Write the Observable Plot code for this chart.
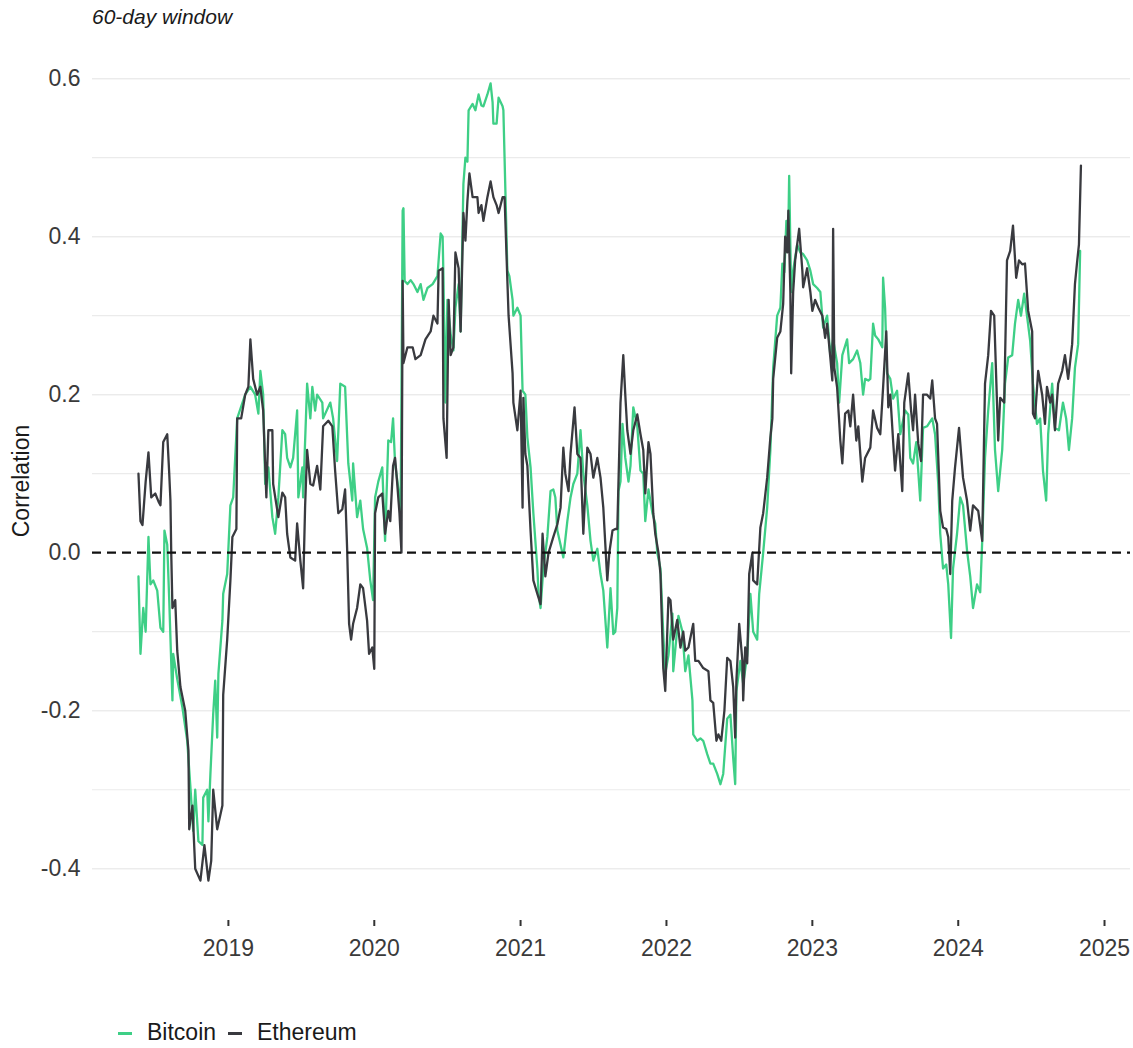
<!DOCTYPE html>
<html>
<head>
<meta charset="utf-8">
<script src="https://cdn.jsdelivr.net/npm/d3@7"></script>
<script src="https://cdn.jsdelivr.net/npm/@observablehq/plot@0.6"></script>
<style>
  html, body { margin: 0; padding: 0; background: #ffffff; }
  #wrap { position: relative; width: 1133px; height: 1048px; font-family: "Liberation Sans", Arial, Helvetica, sans-serif; }
  #title { position: absolute; left: 92px; top: 6px; font-size: 21px; line-height: 21px; font-style: italic; color: #1a1a1a; white-space: nowrap; }
  #ylab { position: absolute; left: 21px; top: 481px; transform: translate(-50%, -50%) rotate(-90deg); font-size: 23px; line-height: 23px; color: #1a1a1a; white-space: nowrap; }
  #chart { position: absolute; left: 0; top: 0; }
  .lg-key { position: absolute; width: 14px; height: 3px; top: 1032px; }
  .lg-txt { position: absolute; top: 1021px; font-size: 23px; line-height: 23px; color: #1a1a1a; white-space: nowrap; }
</style>
</head>
<body>
<div id="wrap">
  <div id="chart"></div>
  <div id="title"></div>
  <div id="ylab"></div>
  <div id="legend"></div>
</div>
<script>
const titleText = "60-day window";
const yAxisTitle = "Correlation";
const seriesNames = ["Bitcoin", "Ethereum"];
const seriesColors = ["#3ecf86", "#393a3f"];

const xTickDates = ["2019-01-01","2020-01-01","2021-01-01","2022-01-01","2023-01-01","2024-01-01","2025-01-01"];
const xTickLabels = ["2019","2020","2021","2022","2023","2024","2025"];
const yTickValues = [-0.4, -0.2, 0, 0.2, 0.4, 0.6];
const yTickLabels = ["-0.4", "-0.2", "0.0", "0.2", "0.4", "0.6"];
const yGridValues = [-0.4, -0.3, -0.2, -0.1, 0.1, 0.2, 0.3, 0.4, 0.5, 0.6];

const btcDates = ["2018-05-21","2018-05-26","2018-06-02","2018-06-08","2018-06-15","2018-06-20","2018-06-27","2018-07-07","2018-07-15","2018-07-22","2018-07-25","2018-08-01","2018-08-06","2018-08-14","2018-08-16","2018-08-26","2018-09-08","2018-09-20","2018-09-28","2018-10-05","2018-10-10","2018-10-18","2018-10-28","2018-10-30","2018-11-09","2018-11-12","2018-11-17","2018-11-24","2018-11-29","2018-12-04","2018-12-07","2018-12-17","2018-12-19","2018-12-29",
"2019-01-06","2019-01-13","2019-01-23","2019-02-12","2019-02-25","2019-03-09","2019-03-17","2019-03-22","2019-03-29","2019-04-03","2019-04-11","2019-04-21","2019-04-28","2019-05-06","2019-05-16","2019-05-23","2019-05-28","2019-06-05","2019-06-12","2019-06-22","2019-06-25","2019-07-05","2019-07-07","2019-07-17","2019-07-25","2019-07-30","2019-08-06","2019-08-11","2019-08-24","2019-08-26","2019-09-13","2019-09-20","2019-09-30","2019-10-08","2019-10-20","2019-10-28","2019-11-07","2019-11-09","2019-11-19","2019-11-27","2019-12-04","2019-12-14","2019-12-22","2019-12-29",
"2020-01-03","2020-01-11","2020-01-21","2020-01-28","2020-02-05","2020-02-12","2020-02-17","2020-02-22","2020-03-02","2020-03-07","2020-03-12","2020-03-14","2020-03-17","2020-03-24","2020-04-01","2020-04-08","2020-04-18","2020-04-26","2020-05-03","2020-05-13","2020-05-26","2020-06-07","2020-06-15","2020-06-20","2020-06-22","2020-06-27","2020-07-02","2020-07-10","2020-07-17","2020-07-22","2020-07-30","2020-08-04","2020-08-11","2020-08-16","2020-08-21","2020-08-24","2020-09-03","2020-09-10","2020-09-18","2020-09-25","2020-09-30","2020-10-10","2020-10-18","2020-10-23","2020-10-25","2020-11-02","2020-11-07","2020-11-17","2020-11-19","2020-11-24","2020-11-29","2020-12-04","2020-12-12","2020-12-14","2020-12-24",
"2021-01-01","2021-01-06","2021-01-13","2021-01-18","2021-01-26","2021-02-02","2021-02-12","2021-02-15","2021-02-20","2021-02-27","2021-03-09","2021-03-17","2021-03-24","2021-03-29","2021-04-03","2021-04-11","2021-04-18","2021-04-28","2021-05-06","2021-05-13","2021-05-23","2021-05-31","2021-06-07","2021-06-17","2021-06-25","2021-07-02","2021-07-12","2021-07-20","2021-07-27","2021-08-06","2021-08-14","2021-08-21","2021-08-26","2021-08-31","2021-09-03","2021-09-08","2021-09-13","2021-09-20","2021-09-28","2021-10-03","2021-10-10","2021-10-20","2021-10-28","2021-11-04","2021-11-09","2021-11-17","2021-11-27","2021-12-04","2021-12-09","2021-12-17","2021-12-24","2021-12-29",
"2022-01-06","2022-01-16","2022-01-18","2022-01-31","2022-02-10","2022-02-17","2022-02-25","2022-03-07","2022-03-09","2022-03-19","2022-03-27","2022-04-03","2022-04-13","2022-04-21","2022-04-28","2022-05-08","2022-05-16","2022-05-23","2022-06-02","2022-06-10","2022-06-17","2022-06-22","2022-06-25","2022-07-05","2022-07-12","2022-07-22","2022-07-30","2022-08-06","2022-08-16","2022-08-21","2022-08-31","2022-09-10","2022-09-18","2022-09-25","2022-10-05","2022-10-13","2022-10-18","2022-10-23","2022-10-28","2022-11-02","2022-11-04","2022-11-09","2022-11-14","2022-11-24","2022-12-02","2022-12-09","2022-12-19","2022-12-27",
"2023-01-03","2023-01-13","2023-01-21","2023-01-28","2023-02-07","2023-02-15","2023-02-22","2023-03-04","2023-03-09","2023-03-17","2023-03-29","2023-04-03","2023-04-13","2023-04-23","2023-05-01","2023-05-08","2023-05-13","2023-05-21","2023-05-26","2023-06-02","2023-06-07","2023-06-15","2023-06-25","2023-06-27","2023-07-02","2023-07-07","2023-07-15","2023-07-22","2023-08-01","2023-08-09","2023-08-21","2023-08-29","2023-09-03","2023-09-10","2023-09-18","2023-09-28","2023-10-05","2023-10-15","2023-10-28","2023-11-04","2023-11-12","2023-11-17","2023-11-24","2023-12-02","2023-12-07","2023-12-14","2023-12-19","2023-12-29",
"2024-01-06","2024-01-13","2024-01-23","2024-01-31","2024-02-07","2024-02-17","2024-02-25","2024-03-01","2024-03-08","2024-03-16","2024-03-26","2024-04-02","2024-04-10","2024-04-20","2024-04-27","2024-05-05","2024-05-15","2024-05-22","2024-05-30","2024-06-06","2024-06-14","2024-06-21","2024-06-29","2024-07-06","2024-07-16","2024-07-24","2024-07-31","2024-08-08","2024-08-13","2024-08-23","2024-08-30","2024-09-09","2024-09-19","2024-09-27","2024-10-04","2024-10-12","2024-10-19","2024-10-27","2024-11-01"];

const btcValues = [-0.03,-0.128,-0.07,-0.1,0.02,-0.04,-0.035,-0.048,-0.095,-0.1,0.028,0.01,-0.06,-0.187,-0.128,-0.16,-0.196,-0.238,-0.297,-0.352,-0.30,-0.365,-0.37,-0.31,-0.30,-0.34,-0.28,-0.204,-0.162,-0.234,-0.153,-0.086,-0.052,-0.027,
0.06,0.07,0.17,0.2,0.21,0.2,0.176,0.23,0.2,0.087,0.108,0.045,0.024,0.07,0.155,0.15,0.12,0.108,0.12,0.18,0.07,0.108,0.07,0.214,0.17,0.21,0.18,0.2,0.19,0.17,0.19,0.17,0.116,0.214,0.21,0.113,0.066,0.113,0.045,0.066,0.03,0.006,-0.035,-0.06,
0.07,0.09,0.108,0.015,0.142,0.14,0.17,0.113,0.078,0.053,0.433,0.436,0.344,0.34,0.345,0.34,0.33,0.34,0.32,0.335,0.34,0.35,0.404,0.40,0.35,0.19,0.32,0.277,0.256,0.31,0.34,0.28,0.467,0.5,0.495,0.56,0.568,0.56,0.58,0.566,0.565,0.58,0.594,0.57,0.543,0.543,0.576,0.565,0.56,0.458,0.357,0.35,0.32,0.30,0.31,
0.30,0.205,0.2,0.146,0.108,0.05,-0.02,-0.052,-0.07,-0.02,0.02,0.078,0.08,0.07,0.028,0.01,-0.006,0.04,0.07,0.087,0.1,0.155,0.1,0.06,0.015,-0.01,0.005,-0.027,-0.048,-0.12,-0.045,-0.103,-0.1,-0.07,0.078,0.09,0.163,0.12,0.09,0.11,0.184,0.16,0.104,0.1,0.04,0.08,0.05,0.037,0.0,-0.02,-0.103,-0.153,
-0.13,-0.077,-0.15,-0.08,-0.1,-0.15,-0.13,-0.187,-0.23,-0.238,-0.235,-0.238,-0.255,-0.267,-0.267,-0.28,-0.293,-0.28,-0.21,-0.205,-0.26,-0.293,-0.175,-0.137,-0.166,-0.13,-0.052,-0.1,-0.11,-0.052,0.0,0.057,0.13,0.234,0.3,0.31,0.366,0.355,0.42,0.41,0.477,0.33,0.357,0.39,0.38,0.378,0.37,0.357,
0.34,0.335,0.33,0.285,0.3,0.25,0.27,0.24,0.19,0.25,0.27,0.24,0.245,0.256,0.24,0.2,0.22,0.218,0.22,0.29,0.275,0.27,0.26,0.348,0.31,0.227,0.22,0.195,0.205,0.15,0.18,0.175,0.12,0.113,0.14,0.066,0.158,0.16,0.17,0.15,0.087,0.024,-0.02,-0.015,-0.04,-0.108,-0.02,0.024,
0.07,0.06,0.003,-0.03,-0.07,-0.04,-0.05,0.015,0.12,0.18,0.24,0.13,0.078,0.13,0.214,0.247,0.25,0.29,0.32,0.30,0.328,0.3,0.268,0.214,0.163,0.17,0.104,0.066,0.15,0.214,0.158,0.155,0.19,0.17,0.13,0.17,0.234,0.264,0.382];

const ethDates = ["2018-05-21","2018-05-26","2018-05-31","2018-06-08","2018-06-15","2018-06-22","2018-07-02","2018-07-10","2018-07-15","2018-07-22","2018-08-01","2018-08-06","2018-08-09","2018-08-11","2018-08-14","2018-08-21","2018-08-26","2018-09-03","2018-09-15","2018-09-23","2018-09-25","2018-10-03","2018-10-10","2018-10-23","2018-11-02","2018-11-12","2018-11-19","2018-11-24","2018-12-04","2018-12-17","2018-12-19","2018-12-29",
"2019-01-06","2019-01-11","2019-01-21","2019-01-23","2019-02-02","2019-02-12","2019-02-20","2019-02-25","2019-03-04","2019-03-14","2019-03-22","2019-03-29","2019-04-06","2019-04-11","2019-04-21","2019-04-23","2019-05-06","2019-05-16","2019-05-23","2019-05-28","2019-06-05","2019-06-17","2019-06-22","2019-06-30","2019-07-07","2019-07-12","2019-07-17","2019-07-25","2019-08-01","2019-08-11","2019-08-19","2019-08-26","2019-09-08","2019-09-18","2019-09-25","2019-10-03","2019-10-13","2019-10-20","2019-10-25","2019-10-30","2019-11-04","2019-11-09","2019-11-19","2019-11-27","2019-12-04","2019-12-14","2019-12-19","2019-12-27",
"2020-01-01","2020-01-03","2020-01-11","2020-01-21","2020-01-28","2020-02-05","2020-02-10","2020-02-17","2020-02-22","2020-02-27","2020-03-04","2020-03-09","2020-03-12","2020-03-14","2020-03-24","2020-04-06","2020-04-13","2020-04-26","2020-05-08","2020-05-21","2020-05-28","2020-06-07","2020-06-10","2020-06-20","2020-06-22","2020-06-30","2020-07-05","2020-07-10","2020-07-17","2020-07-22","2020-07-30","2020-08-04","2020-08-11","2020-08-16","2020-08-21","2020-08-26","2020-09-03","2020-09-15","2020-09-18","2020-09-25","2020-09-30","2020-10-10","2020-10-18","2020-10-25","2020-11-02","2020-11-07","2020-11-17","2020-11-22","2020-11-24","2020-11-29","2020-12-02","2020-12-12","2020-12-14","2020-12-24",
"2021-01-01","2021-01-06","2021-01-08","2021-01-13","2021-01-18","2021-01-26","2021-02-02","2021-02-12","2021-02-20","2021-02-25","2021-03-04","2021-03-12","2021-03-24","2021-04-03","2021-04-11","2021-04-18","2021-04-23","2021-05-01","2021-05-06","2021-05-16","2021-05-23","2021-05-31","2021-06-07","2021-06-17","2021-06-25","2021-07-02","2021-07-12","2021-07-20","2021-07-27","2021-08-06","2021-08-11","2021-08-19","2021-08-26","2021-08-31","2021-09-08","2021-09-15","2021-09-20","2021-09-25","2021-10-03","2021-10-10","2021-10-20","2021-10-28","2021-11-04","2021-11-09","2021-11-17","2021-11-22","2021-11-29","2021-12-04","2021-12-12","2021-12-17","2021-12-24","2021-12-29",
"2022-01-06","2022-01-11","2022-01-18","2022-01-28","2022-02-05","2022-02-12","2022-02-17","2022-02-25","2022-03-09","2022-03-14","2022-03-22","2022-04-03","2022-04-16","2022-04-21","2022-04-28","2022-05-06","2022-05-11","2022-05-18","2022-05-26","2022-06-02","2022-06-10","2022-06-17","2022-06-22","2022-06-25","2022-07-02","2022-07-10","2022-07-12","2022-07-17","2022-07-22","2022-07-27","2022-08-04","2022-08-06","2022-08-16","2022-08-24","2022-08-31","2022-09-10","2022-09-18","2022-09-23","2022-09-25","2022-10-05","2022-10-13","2022-10-20","2022-10-25","2022-10-30","2022-11-02","2022-11-07","2022-11-09","2022-11-14","2022-11-19","2022-11-29","2022-12-07","2022-12-09","2022-12-19","2022-12-27",
"2023-01-01","2023-01-08","2023-01-16","2023-01-26","2023-02-02","2023-02-07","2023-02-15","2023-02-20","2023-02-22","2023-02-25","2023-03-04","2023-03-12","2023-03-17","2023-03-24","2023-04-01","2023-04-06","2023-04-13","2023-04-21","2023-04-26","2023-05-06","2023-05-13","2023-05-26","2023-06-02","2023-06-12","2023-06-20","2023-06-27","2023-07-05","2023-07-10","2023-07-15","2023-07-22","2023-07-27","2023-08-04","2023-08-14","2023-08-19","2023-08-29","2023-09-05","2023-09-10","2023-09-15","2023-09-23","2023-09-30","2023-10-05","2023-10-15","2023-10-23","2023-10-28","2023-11-04","2023-11-09","2023-11-17","2023-11-24","2023-12-02","2023-12-07","2023-12-12","2023-12-17","2023-12-24",
"2024-01-03","2024-01-13","2024-01-23","2024-01-31","2024-02-07","2024-02-20","2024-03-01","2024-03-08","2024-03-16","2024-03-23","2024-03-31","2024-04-07","2024-04-10","2024-04-15","2024-04-25","2024-05-02","2024-05-10","2024-05-17","2024-05-25","2024-06-01","2024-06-09","2024-06-16","2024-06-24","2024-07-04","2024-07-06","2024-07-11","2024-07-19","2024-07-29","2024-08-05","2024-08-10","2024-08-18","2024-08-23","2024-08-30","2024-09-07","2024-09-17","2024-09-24","2024-10-02","2024-10-12","2024-10-19","2024-10-24","2024-10-29","2024-11-03"];

const ethValues = [0.10,0.04,0.035,0.09,0.127,0.07,0.075,0.065,0.06,0.14,0.15,0.10,0.066,0.0,-0.07,-0.06,-0.124,-0.17,-0.2,-0.25,-0.35,-0.32,-0.40,-0.415,-0.37,-0.415,-0.39,-0.30,-0.35,-0.32,-0.18,-0.11,
-0.035,0.02,0.03,0.17,0.17,0.2,0.21,0.27,0.22,0.2,0.21,0.18,0.07,0.155,0.155,0.087,0.045,0.076,0.07,0.024,-0.006,-0.01,0.037,-0.01,-0.045,0.06,0.13,0.087,0.085,0.11,0.08,0.16,0.167,0.16,0.104,0.05,0.055,0.08,0.006,-0.09,-0.11,-0.09,-0.07,-0.04,-0.045,-0.086,-0.128,-0.12,
-0.147,0.05,0.07,0.075,0.024,0.053,0.04,0.11,0.12,0.09,0.05,0.0,0.344,0.24,0.26,0.26,0.245,0.25,0.27,0.28,0.30,0.29,0.357,0.36,0.17,0.12,0.32,0.25,0.26,0.38,0.36,0.28,0.43,0.395,0.445,0.48,0.45,0.45,0.43,0.44,0.42,0.45,0.47,0.45,0.44,0.43,0.45,0.45,0.42,0.344,0.30,0.227,0.19,0.155,
0.205,0.057,0.196,0.125,0.11,0.028,-0.035,-0.052,-0.065,0.024,-0.03,0.0,0.02,0.036,0.057,0.133,0.1,0.078,0.125,0.184,0.125,0.12,0.024,0.133,0.125,0.095,0.12,0.095,0.057,-0.035,0.0,0.028,0.03,0.03,0.19,0.25,0.2,0.155,0.125,0.155,0.175,0.15,0.13,0.075,0.14,0.125,0.05,0.024,0.0,-0.027,-0.146,-0.175,
-0.057,-0.06,-0.11,-0.085,-0.12,-0.1,-0.124,-0.12,-0.09,-0.137,-0.137,-0.146,-0.15,-0.187,-0.19,-0.238,-0.23,-0.238,-0.2,-0.133,-0.137,-0.17,-0.234,-0.162,-0.09,-0.137,-0.187,-0.12,-0.14,-0.027,0.0,-0.035,-0.04,0.032,0.05,0.095,0.146,0.17,0.22,0.272,0.28,0.315,0.40,0.38,0.433,0.33,0.227,0.33,0.37,0.41,0.357,0.336,0.36,0.33,
0.306,0.32,0.31,0.30,0.272,0.29,0.247,0.218,0.41,0.234,0.209,0.142,0.113,0.176,0.18,0.16,0.2,0.142,0.16,0.09,0.12,0.133,0.18,0.158,0.15,0.209,0.28,0.184,0.2,0.142,0.104,0.15,0.078,0.19,0.227,0.18,0.155,0.2,0.138,0.116,0.2,0.2,0.195,0.218,0.17,0.163,0.053,0.032,0.03,0.02,-0.027,0.066,0.108,
0.158,0.095,0.066,0.028,0.06,0.053,0.015,0.214,0.25,0.306,0.3,0.19,0.142,0.196,0.19,0.37,0.382,0.414,0.348,0.37,0.365,0.366,0.306,0.28,0.176,0.17,0.23,0.2,0.163,0.21,0.19,0.2,0.155,0.214,0.23,0.25,0.22,0.264,0.34,0.366,0.39,0.49];

const xDomain = ["2018-01-26", "2025-03-07"].map(s => new Date(s));
const yDomain = [-0.4655, 0.6445];

const toRows = (dates, values, name) => dates.map((d, i) => ({date: new Date(d), value: values[i], series: name}));
const btc = toRows(btcDates, btcValues, seriesNames[0]);
const eth = toRows(ethDates, ethValues, seriesNames[1]);

const xTickObjs = xTickDates.map(s => new Date(s));
const xFmt = d => xTickLabels[xTickObjs.findIndex(t => +t === +d)];
const yFmt = d => yTickLabels[yTickValues.indexOf(d)];

const chart = Plot.plot({
  width: 1133,
  height: 978,
  marginLeft: 92,
  marginRight: 3,
  marginTop: 43,
  marginBottom: 58,
  style: {fontFamily: '"Liberation Sans", Arial, Helvetica, sans-serif', fontSize: "23px", background: "#ffffff", color: "#3a3a3a", overflow: "visible"},
  x: {type: "utc", domain: xDomain, label: null},
  y: {domain: yDomain, label: null},
  marks: [
    Plot.ruleY(yGridValues, {stroke: "#ebebeb", strokeWidth: 1.2}),
    Plot.ruleY(yTickValues.filter(v => v !== 0), {stroke: "#ebebeb", strokeWidth: 1.2}),
    Plot.axisX({ticks: xTickObjs, tickFormat: xFmt, tickSize: 6, tickPadding: 13, stroke: "#333333", strokeWidth: 2, fill: "#3a3a3a", fontSize: 23, label: null}),
    Plot.axisY({ticks: yTickValues, tickFormat: yFmt, tickSize: 0, tickPadding: 12, fill: "#3a3a3a", fontSize: 23, label: null}),
    Plot.line(btc, {x: "date", y: "value", stroke: seriesColors[0], strokeWidth: 2.3, strokeLinejoin: "round"}),
    Plot.line(eth, {x: "date", y: "value", stroke: seriesColors[1], strokeWidth: 2.3, strokeLinejoin: "round"}),
    Plot.ruleY([0], {stroke: "#111111", strokeWidth: 2.2, strokeDasharray: "9,6"})
  ]
});
document.getElementById("chart").appendChild(chart);

document.getElementById("title").textContent = titleText;
document.getElementById("ylab").textContent = yAxisTitle;

const legend = document.getElementById("legend");
const keyLefts = [118, 228];
const txtLefts = [147, 257];
seriesNames.forEach((name, i) => {
  const k = document.createElement("div");
  k.className = "lg-key";
  k.style.left = keyLefts[i] + "px";
  k.style.background = seriesColors[i];
  legend.appendChild(k);
  const t = document.createElement("div");
  t.className = "lg-txt";
  t.style.left = txtLefts[i] + "px";
  t.textContent = name;
  legend.appendChild(t);
});
</script>
</body>
</html>
